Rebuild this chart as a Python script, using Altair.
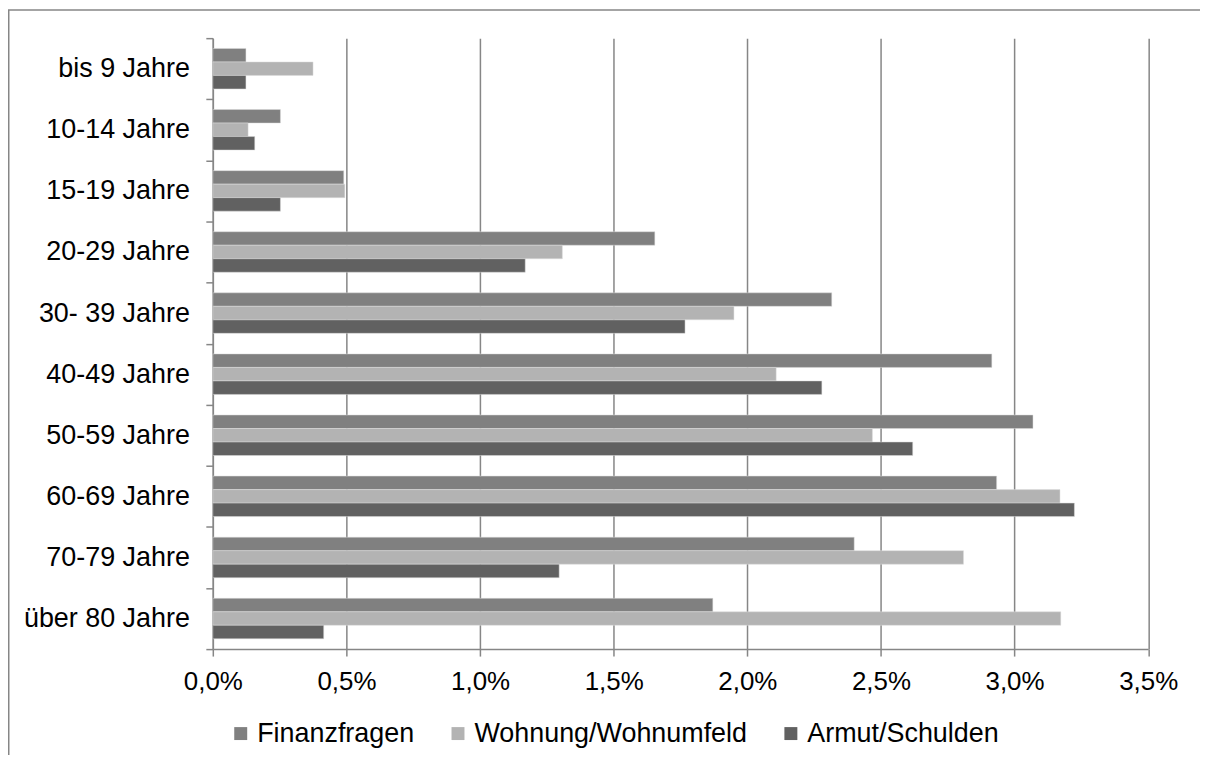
import altair as alt
import pandas as pd

categories = ["bis 9 Jahre", "10-14 Jahre", "15-19 Jahre", "20-29 Jahre", "30- 39 Jahre",
              "40-49 Jahre", "50-59 Jahre", "60-69 Jahre", "70-79 Jahre", "über 80 Jahre"]
series = ["Finanzfragen", "Wohnung/Wohnumfeld", "Armut/Schulden"]
finanz = [0.124, 0.253, 0.490, 1.654, 2.316, 2.915, 3.069, 2.933, 2.400, 1.871]
wohnung = [0.375, 0.132, 0.494, 1.308, 1.950, 2.108, 2.468, 3.170, 2.809, 3.173]
armut = [0.124, 0.157, 0.253, 1.169, 1.767, 2.279, 2.619, 3.224, 1.296, 0.415]
colors = ["#808080", "#b3b3b3", "#616161"]
x_ticks = [0.0, 0.5, 1.0, 1.5, 2.0, 2.5, 3.0, 3.5]

rows = []
for s, vals in zip(series, [finanz, wohnung, armut]):
    for c, v in zip(categories, vals):
        rows.append({"Alter": c, "Reihe": s, "Wert": v})
df = pd.DataFrame(rows)

FONT = "Liberation Sans"
GRID = "#868686"
W, H = 938.5, 613
PL, PT = 205.5, 29
PR = 1196 - PL - W
PB = 747 - PT - H

frame = alt.Chart(alt.Data(values=[{}])).mark_rect(
    fillOpacity=0, stroke=GRID, strokeWidth=1.5
).encode(
    x=alt.value(-PL + 0.75), x2=alt.value(W + 300),
    y=alt.value(-PT + 0.75), y2=alt.value(H + 300),
)

bars = alt.Chart(df).mark_bar(stroke="#dcdcdc", strokeWidth=0.5).encode(
    x=alt.X("Wert:Q",
            scale=alt.Scale(domain=[0, 3.5], nice=False, zero=True),
            axis=alt.Axis(values=x_ticks, title=None,
                          labelExpr="replace(format(datum.value, '.1f'), '.', ',') + '%'",
                          grid=True, gridColor=GRID, gridWidth=1.5,
                          domainColor=GRID, domainWidth=1.5,
                          tickColor=GRID, tickWidth=1.5, tickSize=7,
                          labelFont=FONT, labelFontSize=26, labelColor="#000000",
                          labelPadding=13, labelFlush=False, labelOverlap=False)),
    y=alt.Y("Alter:N", sort=categories,
            scale=alt.Scale(paddingInner=0, paddingOuter=0),
            axis=alt.Axis(title=None, tickBand="extent", grid=False,
                          domainColor=GRID, domainWidth=1.5,
                          tickColor=GRID, tickWidth=1.5, tickSize=7,
                          labelFont=FONT, labelFontSize=27, labelColor="#000000",
                          labelPadding=16.5, labelLimit=0)),
    yOffset=alt.YOffset("Reihe:N", sort=series,
                        scale=alt.Scale(paddingInner=0, paddingOuter=0.762)),
    color=alt.Color("Reihe:N", sort=series,
                    scale=alt.Scale(domain=series, range=colors),
                    legend=alt.Legend(title=None, orient="none", direction="horizontal",
                                      legendX=14.5, legendY=684,
                                      symbolType="square", symbolSize=169,
                                      symbolStrokeWidth=0,
                                      labelFont=FONT, labelFontSize=27,
                                      labelColor="#000000", labelOffset=3,
                                      labelLimit=0,
                                      columnPadding=30, padding=0)),
)

chart = alt.layer(frame, bars).properties(
    width=W, height=H,
    autosize=alt.AutoSizeParams(type="none"),
    padding={"left": PL, "top": PT, "right": PR, "bottom": PB},
).configure_view(stroke=None)

chart.save("out.html", embed_options={"renderer": "svg", "actions": False})
